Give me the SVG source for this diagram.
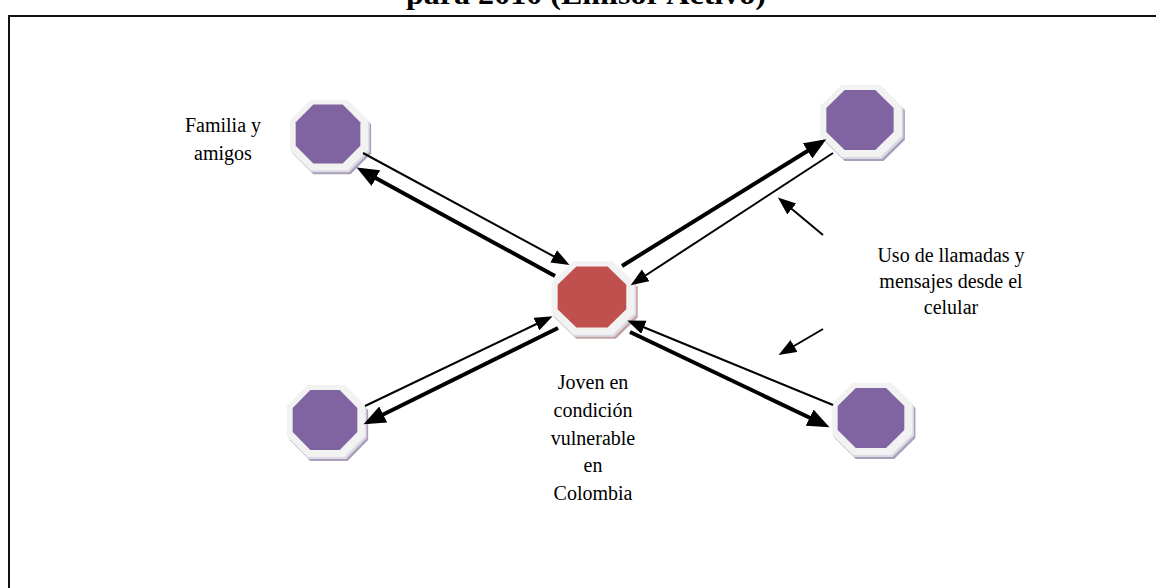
<svg xmlns="http://www.w3.org/2000/svg" width="1156" height="588" viewBox="0 0 1156 588">
<style>
.lbl{font-family:"Liberation Serif","Times New Roman",serif;font-size:20px;fill:#000;text-anchor:middle}
.ttl{font-family:"Liberation Serif","Times New Roman",serif;font-size:30px;font-weight:bold;fill:#000;text-anchor:middle}
.frame{fill:none;stroke:#111;stroke-width:2}
.thin{stroke:#000;stroke-width:2;fill:none;marker-end:url(#ah)}
.thick{stroke:#000;stroke-width:4;fill:none;marker-end:url(#ahb)}
.sh2{fill:#ddd9e4}
.ring{fill:#f2f2f2}
.shp{fill:#a99fbb}
.corep{fill:#8064a2}
.shr{fill:#c4a3a2}
.corer{fill:#c0504d}
</style>
<defs>
<marker id="ah" markerUnits="userSpaceOnUse" markerWidth="20" markerHeight="16" refX="14" refY="7" orient="auto"><path d="M0,0 L18,7 L0,14 z" fill="#000"/></marker>
<marker id="ahb" markerUnits="userSpaceOnUse" markerWidth="24" markerHeight="20" refX="17" refY="9" orient="auto"><path d="M0,0 L22,9 L0,18 z" fill="#000"/></marker>
<polygon id="outer" points="-19,-36 19,-36 40,-15 40,15 19,36 -19,36 -40,15 -40,-15"/>
<polygon id="inner" points="-16,-31 14,-31 32,-13 32,11 14,29 -16,29 -34,11 -34,-13"/>
</defs>
<text class="ttl" x="586" y="4" textLength="360" lengthAdjust="spacingAndGlyphs">para 2010 (Emisor Activo)</text>
<polyline class="frame" points="1160,16 9,16 9,592"/>
<g id="node-familia" transform="translate(329,135) scale(0.98,0.98)">
<use href="#outer" class="shp" x="3" y="4"/><use href="#outer" class="sh2" x="1.5" y="2"/><use href="#outer" class="ring"/><use href="#inner" class="corep"/>
</g>
<g id="node-tr" transform="translate(861,121) scale(1.02,1)">
<use href="#outer" class="shp" x="3" y="4"/><use href="#outer" class="sh2" x="1.5" y="2"/><use href="#outer" class="ring"/><use href="#inner" class="corep"/>
</g>
<g id="node-br" transform="translate(872,419) scale(1.01,1)">
<use href="#outer" class="shp" x="3" y="4"/><use href="#outer" class="sh2" x="1.5" y="2"/><use href="#outer" class="ring"/><use href="#inner" class="corep"/>
</g>
<g id="node-bl" transform="translate(326,421) scale(0.98,1)">
<use href="#outer" class="shp" x="3" y="4"/><use href="#outer" class="sh2" x="1.5" y="2"/><use href="#outer" class="ring"/><use href="#inner" class="corep"/>
</g>
<g id="node-joven" transform="translate(593,298) scale(1.04,1.02)">
<use href="#outer" class="shr" x="3" y="4"/><use href="#outer" class="sh2" x="1.5" y="2"/><use href="#outer" class="ring"/><use href="#inner" class="corer"/>
</g>
<g id="connectors">
<line class="thin" x1="363" y1="153" x2="566" y2="263"/>
<line class="thick" x1="555" y1="276" x2="361" y2="170"/>
<line class="thick" x1="622" y1="266" x2="822" y2="142"/>
<line class="thin" x1="833" y1="153" x2="634" y2="283"/>
<line class="thin" x1="365" y1="406" x2="549" y2="318"/>
<line class="thick" x1="558" y1="328" x2="368" y2="422"/>
<line class="thin" x1="833" y1="405" x2="631" y2="322"/>
<line class="thick" x1="630" y1="332" x2="825" y2="425"/>
<line class="thin" x1="823" y1="235" x2="781" y2="200"/>
<line class="thin" x1="823" y1="329" x2="782" y2="353"/>
</g>
<g id="labels">
<text class="lbl" x="223" y="132">Familia y</text>
<text class="lbl" x="223" y="160">amigos</text>
<text class="lbl" x="593" y="389">Joven en</text>
<text class="lbl" x="593" y="417">condición</text>
<text class="lbl" x="593" y="445">vulnerable</text>
<text class="lbl" x="593" y="472">en</text>
<text class="lbl" x="593" y="500">Colombia</text>
<text class="lbl" x="951" y="262">Uso de llamadas y</text>
<text class="lbl" x="951" y="288">mensajes desde el</text>
<text class="lbl" x="951" y="314">celular</text>
</g>
</svg>
